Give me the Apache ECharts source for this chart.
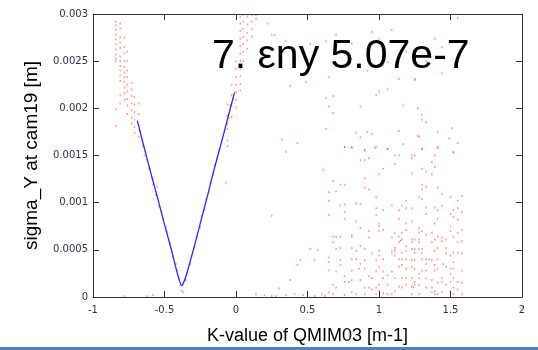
<!DOCTYPE html>
<html>
<head>
<meta charset="utf-8">
<script src="https://cdn.jsdelivr.net/npm/echarts@6/dist/echarts.min.js"></script>
<style>html,body{margin:0;padding:0;background:#fff;}#c{width:538px;height:350px;}</style>
</head>
<body>
<div id="c"></div>
<script>
// Axis ticks
const xTicks = [-1, -0.5, 0, 0.5, 1, 1.5, 2];
const yTicks = [0, 0.0005, 0.001, 0.0015, 0.002, 0.0025, 0.003];

// Red scatter, grouped by K column: [k, sigma values in 1e-4 m]
const leftCols = [
  [-0.84, [29.2, 28.8, 28.3, 27.8, 27.3, 26.8, 26.2, 25.7, 25.3, 25.0, 19.9, 18.1]],
  [-0.81, [29.0, 28.5, 27.5, 27.0, 26.4, 25.5, 25.0, 24.5, 24.0, 23.5, 22.9, 21.4, 20.5]],
  [-0.78, [27.5, 26.5, 25.8, 25.0, 24.4, 23.8, 23.3, 22.8, 22.2, 21.6, 20.9]],
  [-0.76, [26.0, 25.0, 24.0, 23.3, 22.5, 21.8, 21.0, 20.3, 19.4]],
  [-0.73, [22.7, 22.0, 21.3, 20.5, 19.8, 19.0, 18.4]],
  [-0.71, [21.2, 20.4, 19.6, 18.8, 18.0, 17.4]],
  [-0.68, [20.5, 19.4, 18.2, 17.0]]
];
const topCols = [
  [-0.06, [20.4, 19.2, 17.8, 16.6, 16.0]],
  [-0.03, [22.5, 21.4, 20.3, 19.1]],
  [0.00, [25.0, 24.2, 23.3, 22.5, 21.7, 20.9, 20.1]],
  [0.03, [29.7, 29.0, 28.2, 27.4, 26.6, 25.8, 25.0, 24.2, 23.4, 22.6, 21.9]],
  [0.05, [29.9, 29.2, 28.4, 27.6, 26.8, 26.0, 25.0]],
  [0.08, [29.7, 28.9, 28.0, 27.2, 26.3]],
  [0.11, [29.9, 29.2, 28.4, 27.6]],
  [0.14, [29.9, 29.5]]
];
const lowCols = [
  [0.65, [11.1, 10.2, 8.7, 4.2, 3.7, 2.8, 0.5]],
  [0.68, [12.3, 6.4, 5.8, 1.3, 0.3]],
  [0.70, [11.2, 6.4, 5.1, 2.7, 1.0]],
  [0.73, [11.9, 9.7, 6.4, 5.2, 3.9, 3.4]],
  [0.76, [15.9, 11.9, 9.8, 9.0, 8.3, 2.2, 1.6, 0.2]],
  [0.79, [1.6]],
  [0.81, [15.9, 6.6, 6.4, 5.2, 4.0, 2.8, 1.8, 0.5]],
  [0.84, [9.9, 8.0, 4.9, 4.0, 0.3]],
  [0.87, [14.5, 9.9, 7.3, 5.4, 3.5, 1.8]],
  [0.90, [15.5, 14.5, 12.6, 11.6, 5.1, 3.9, 3.0, 1.0, 0.3]],
  [0.93, [14.7, 11.4, 7.0, 6.3, 2.2, 1.0]],
  [0.95, [4.6, 0.8]],
  [0.98, [15.9, 10.6, 9.4, 8.7, 3.9, 2.7, 1.0, 0.3]],
  [1.00, [13.0, 7.8, 7.5, 7.0, 4.9, 4.4, 3.2, 1.3, 0.6]],
  [1.03, [13.6, 9.2, 7.1, 4.0, 2.7, 2.0]],
  [1.06, [15.7, 2.3, 1.3, 0.3]],
  [1.09, [9.7, 6.3, 4.9, 4.6, 2.7, 0.3]],
  [1.11, [15.0, 14.1, 6.8, 5.2, 4.9, 4.4, 2.0, 0.6]],
  [1.14, [15.0, 9.2, 8.3, 6.4, 5.8, 4.0, 3.2, 1.1]],
  [1.16, [9.7, 6.8, 6.1, 4.7, 4.0, 3.4, 2.0, 1.0]],
  [1.19, [10.2, 9.4, 7.8, 7.1, 5.4, 4.9, 4.0, 3.0, 2.0, 1.3]],
  [1.23, [15.0, 14.7, 13.1, 9.4, 8.0, 6.1, 5.8, 5.1, 3.9, 3.2, 2.0, 1.1, 0.3]],
  [1.25, [15.0, 6.1, 5.1, 3.9, 1.3, 4.7, 3.0, 1.6]],
  [1.28, [10.6, 7.3, 6.8, 5.8, 2.5, 2.0, 0.3, 6.1, 5.1, 1.3]],
  [1.30, [15.7, 13.6, 11.9, 11.4, 10.4, 7.0, 5.1, 4.7, 4.0, 2.8]],
  [1.33, [13.3, 11.7, 9.5, 8.8, 6.6, 4.0, 3.5, 2.8, 2.0, 1.0]],
  [1.37, [14.3, 13.0, 6.8, 5.8, 3.9, 1.8, 1.0, 0.5]],
  [1.39, [15.0, 13.8, 9.5, 7.8, 6.1, 4.9, 3.4, 2.8, 0.3]],
  [1.41, [15.9, 11.6, 9.2, 8.3, 6.4, 5.2, 4.0, 3.0, 1.5, 0.3]],
  [1.44, [10.9, 9.7, 6.3, 5.9, 2.0, 1.6, 0.5]],
  [1.47, [6.1, 5.2, 4.6, 3.2, 1.3]],
  [1.50, [10.6, 8.8, 7.5, 7.0, 4.4, 3.0, 2.5, 1.6, 0.6]],
  [1.52, [15.3, 9.2, 8.5, 6.4, 4.7, 3.7, 3.0, 2.0, 1.0, 0.3]],
  [1.55, [10.2, 9.4, 8.2, 6.8, 5.8, 4.7, 1.6, 0.8]],
  [1.58, [10.7, 9.0, 7.1, 5.9, 4.6, 2.8, 1.5, 0.3]]
];
// Individual red points [k, sigma in 1e-4 m]
const loosePoints = [
  [0.52, 5.1], [0.61, 13.5], [0.45, 3.9], [0.38, 1.8], [0.43, 3.4], [0.57, 5.0], [0.55, 3.9],
  [0.30, 0.9], [0.25, 8.6], [0.35, 15.4], [0.14, 0.3], [0.20, 0.2], [0.25, 0.1], [0.28, 0.1],
  [0.35, 0.2], [0.41, 0.3], [-0.78, 0.1], [-0.62, 0.1], [-0.58, 0.2], [0.47, 0.2], [0.55, 0.1],
  [0.60, 0.3], [0.62, 0.1],
  [0.70, 27.8], [0.52, 26.8], [0.63, 27.1], [0.81, 26.9], [0.95, 28.1], [1.09, 28.3], [1.00, 27.4],
  [1.06, 24.9], [0.92, 24.0], [1.19, 26.0], [0.49, 22.8], [0.65, 23.3], [1.14, 23.1], [1.25, 23.0],
  [1.00, 21.8], [1.06, 22.0], [0.98, 21.4], [0.63, 21.1], [0.68, 21.3], [0.65, 20.2], [0.68, 19.5],
  [0.87, 20.2], [1.17, 20.3], [0.63, 17.8], [0.84, 17.4], [0.92, 17.5], [0.95, 17.3], [0.87, 16.9],
  [1.14, 17.6], [0.76, 15.9], [0.81, 15.8], [0.90, 15.6], [0.97, 15.8], [1.06, 15.7], [1.17, 16.2],
  [1.27, 17.1], [1.55, 29.6], [1.39, 27.4], [1.44, 26.5], [1.30, 25.6], [1.33, 25.0], [1.44, 23.7],
  [1.25, 23.1], [1.27, 20.0], [1.30, 19.3], [1.30, 18.8], [1.33, 18.5], [1.51, 17.9], [1.41, 17.5],
  [1.49, 16.8], [1.55, 16.3], [1.28, 17.0], [1.41, 15.8], [1.52, 15.4], [1.30, 15.7],
  [0.25, 27.8], [0.27, 27.8], [0.35, 27.1], [0.22, 29.0], [0.38, 22.4], [0.32, 16.7], [0.43, 16.3]
];
// Red points along the V
const vPoints = [
  [-0.67, 17.6], [-0.65, 16.0], [-0.64, 15.0], [-0.62, 14.5], [-0.61, 13.6], [-0.59, 12.6], [-0.58, 11.9],
  [-0.55, 11.7], [-0.56, 10.8], [-0.54, 9.6], [-0.52, 9.0], [-0.51, 8.3], [-0.49, 7.4], [-0.48, 6.9],
  [-0.46, 5.7], [-0.45, 5.0], [-0.44, 4.2], [-0.42, 3.5], [-0.41, 2.8], [-0.40, 2.0], [-0.39, 1.3],
  [-0.38, 0.7], [-0.37, 0.5], [-0.35, 1.8], [-0.34, 2.5], [-0.32, 3.5], [-0.31, 4.4], [-0.29, 5.2],
  [-0.27, 6.4], [-0.25, 7.4], [-0.24, 8.6], [-0.22, 9.3], [-0.21, 10.4], [-0.19, 11.1], [-0.18, 12.1],
  [-0.16, 13.0], [-0.15, 14.0], [-0.13, 14.8], [-0.12, 15.6], [-0.10, 16.5], [-0.08, 17.5],
  [-0.07, 12.1], [-0.06, 18.3], [-0.05, 19.0], [-0.04, 20.3], [-0.02, 21.0]
];
// Black points
const blackPoints = [
  [0.86, 3.0], [1.03, 0.4], [1.24, 1.0], [1.45, 3.5], [1.39, 0.6], [0.95, 2.0], [1.15, 6.0], [1.35, 4.0]
];
// Fitted curve (blue)
const fitK = [-0.69, -0.65, -0.60, -0.55, -0.50, -0.45, -0.41, -0.38, -0.35, -0.30, -0.25, -0.20, -0.15, -0.10, -0.05, -0.01];
const fitS = [0.00187, 0.00163, 0.00134, 0.00106, 0.00077, 0.00049, 0.00025, 0.00012, 0.00022, 0.00049, 0.00078, 0.00107, 0.00137, 0.00165, 0.00194, 0.00217];

const U = 1e-4;
const colsToPts = cols => cols.flatMap(([k, arr]) => arr.map(s => [k, s * U]));
const redData = colsToPts(leftCols).concat(colsToPts(topCols), colsToPts(lowCols),
  loosePoints.map(p => [p[0], p[1] * U]), vPoints.map(p => [p[0], p[1] * U]));
const blackData = blackPoints.map(p => [p[0], p[1] * U]);
const fitData = fitK.map((k, i) => [k, fitS[i]]);

const fmt = v => String(Number(v.toPrecision(6)));
const axisLine = { show: true, onZero: false, lineStyle: { color: '#333', width: 1 } };
const tick = { show: true, inside: true, length: 6, lineStyle: { color: '#333', width: 1 } };

const chart = echarts.init(document.getElementById('c'), null, { renderer: 'canvas' });
chart.setOption({
  animation: false,
  backgroundColor: '#fff',
  grid: { left: 93, right: 16, top: 14, bottom: 44, containLabel: false },
  xAxis: [{
    type: 'value', min: -1, max: 2, interval: 0.5, position: 'bottom',
    axisLine, axisTick: tick, splitLine: { show: false },
    axisLabel: { formatter: fmt, margin: 8, color: '#303048', fontFamily: 'DejaVu Sans', fontSize: 10 },
    name: 'K-value of QMIM03 [m-1]', nameLocation: 'middle', nameGap: 30,
    nameTextStyle: { color: '#000', fontFamily: 'Liberation Sans', fontSize: 18 }
  }, {
    type: 'value', min: -1, max: 2, interval: 0.5, position: 'top',
    axisLine, axisTick: tick, splitLine: { show: false }, axisLabel: { show: false }
  }],
  yAxis: [{
    type: 'value', min: 0, max: 0.003, interval: 0.0005, position: 'left',
    axisLine, axisTick: tick, splitLine: { show: false },
    axisLabel: { formatter: fmt, margin: 5, color: '#303048', fontFamily: 'DejaVu Sans', fontSize: 10 },
    name: 'sigma_Y at cam19 [m]', nameLocation: 'middle', nameGap: 52,
    nameTextStyle: { color: '#000', fontFamily: 'Liberation Sans', fontSize: 19 }
  }, {
    type: 'value', min: 0, max: 0.003, interval: 0.0005, position: 'right',
    axisLine, axisTick: tick, splitLine: { show: false }, axisLabel: { show: false }
  }],
  series: [{
    type: 'scatter', data: redData, symbol: 'rect', symbolSize: [1.5, 2],
    itemStyle: { color: 'rgba(255,40,40,0.6)' }, silent: true
  }, {
    type: 'scatter', data: blackData, symbol: 'rect', symbolSize: [1, 1.5],
    itemStyle: { color: 'rgba(0,0,0,0.7)' }, silent: true
  }, {
    type: 'line', data: fitData, showSymbol: false, smooth: 0.2,
    lineStyle: { color: '#2a2aff', width: 1.3 }, silent: true
  }],
  graphic: [{
    type: 'text', left: 212, top: 36, silent: true,
    style: { text: '7. εny 5.07e-7', fill: '#000', font: '41px "Liberation Sans"' }
  }, {
    type: 'rect', left: 0, top: 347, silent: true,
    shape: { width: 538, height: 3 }, style: { fill: '#4f81bd' }
  }]
});
</script>
</body>
</html>
